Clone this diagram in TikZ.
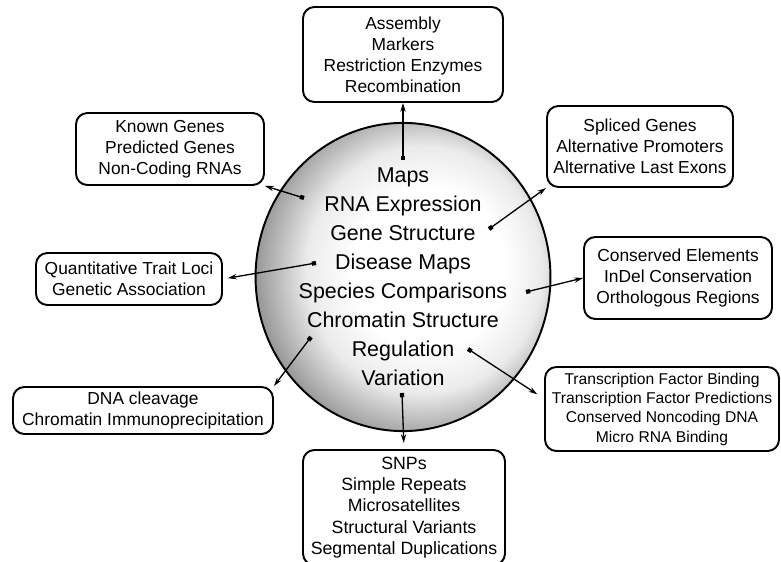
\documentclass[tikz,border=0pt]{standalone}
\usepackage{fontspec}
\setmainfont{Liberation Sans}
\usetikzlibrary{shapes.geometric, arrows.meta}
\colorlet{hubedge}{black!42}
\colorlet{hubmid}{black!8}
\pgfdeclareradialshading{hubshade}{\pgfpoint{6bp}{2bp}}{color(0bp)=(white); color(13bp)=(white); color(20bp)=(hubmid); color(28bp)=(hubedge); color(50bp)=(hubedge)}

\begin{document}
\begin{tikzpicture}[
    box/.style={rectangle, draw, line width=1.1pt, rounded corners=6.5pt, align=center, inner sep=0pt, font=\fontsize{9.9}{12}\selectfont},
    hub/.style={ellipse, draw, line width=1.1pt, shading=hubshade, align=center, inner sep=0pt, font=\fontsize{12.2}{16.5}\selectfont},
    link/.style={{Square[length=2.4pt,width=2.4pt]}-{Stealth[length=5pt,width=3pt]}, line width=0.75pt}
]
    \useasboundingbox (0,0) rectangle (15.62,11.22);

    % central topics
    \node [hub, minimum width=5.84cm, minimum height=5.3cm] (hub) at (8.06,5.68)
        {Maps\\RNA Expression\\Gene Structure\\Disease Maps\\Species Comparisons\\Chromatin Structure\\Regulation\\Variation};

    % surrounding boxes
    \node [box, minimum width=4cm, minimum height=1.9cm] (assembly) at (8.06,10.13) {Assembly\\Markers\\Restriction Enzymes\\Recombination};
    \node [box, minimum width=3.76cm, minimum height=1.44cm] (genes) at (3.40,8.24) {Known Genes\\Predicted Genes\\Non-Coding RNAs};
    \node [box, minimum width=3.72cm, minimum height=1.62cm] (spliced) at (12.80,8.29) {Spliced Genes\\Alternative Promoters\\Alternative Last Exons};
    \node [box, minimum width=3.76cm, minimum height=1.64cm] (conserved) at (13.56,5.66) {Conserved Elements\\InDel Conservation\\Orthologous Regions};
    \node [box, minimum width=3.72cm, minimum height=1.04cm] (qtl) at (2.58,5.64) {Quantitative Trait Loci\\Genetic Association};
    \node [box, minimum width=5.2cm, minimum height=0.94cm] (dna) at (2.86,3.01) {DNA cleavage\\Chromatin Immunoprecipitation};
    \node [box, minimum width=4.68cm, minimum height=1.68cm, font=\fontsize{8.9}{11}\selectfont] (tf) at (13.24,3.04) {Transcription Factor Binding\\Transcription Factor Predictions\\Conserved Noncoding DNA\\Micro RNA Binding};
    \node [box, minimum width=4.04cm, minimum height=2.3cm, font=\fontsize{10.1}{12.1}\selectfont] (snps) at (8.08,1.07) {SNPs\\Simple Repeats\\Microsatellites\\Structural Variants\\Segmental Duplications};

    % anchor points inside the circle
    \coordinate (d-assembly) at (8.06,8.02);
    \coordinate (d-genes) at (6.08,7.26);
    \coordinate (d-spliced) at (9.78,6.64);
    \coordinate (d-conserved) at (10.52,5.38);
    \coordinate (d-qtl) at (6.32,5.96);
    \coordinate (d-dna) at (6.22,4.48);
    \coordinate (d-tf) at (9.36,4.24);
    \coordinate (d-snps) at (8.04,3.36);

    \draw [link] (d-assembly) -- (assembly.south);
    \draw [link] (d-genes) -- (genes.south east);
    \draw [link] (d-spliced) -- (spliced.south west);
    \draw [link] (d-conserved) -- (conserved.west);
    \draw [link, shorten >=0.1cm] (d-qtl) -- (qtl.east);
    \draw [link] (d-dna) -- (dna.north east);
    \draw [link, shorten >=0.16cm] (d-tf) -- (tf.175);
    \draw [link, shorten >=0.12cm] (d-snps) -- (snps.north);
\end{tikzpicture}
\end{document}
